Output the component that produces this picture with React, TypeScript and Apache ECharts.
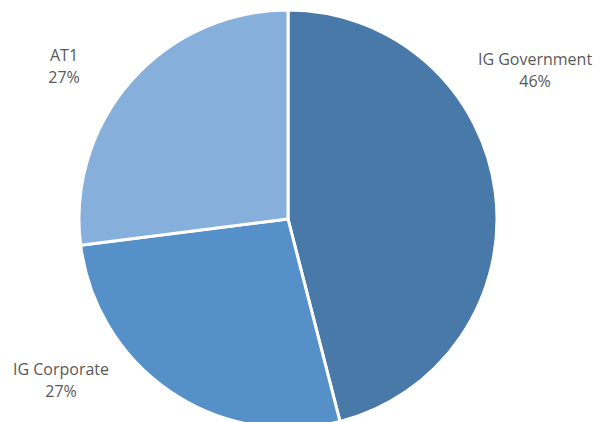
import React, { useEffect, useRef } from "react";
import * as echarts from "echarts";

const categories = ["IG Government", "IG Corporate", "AT1"];
const values = [46, 27, 27];
const colors = ["#4879A9", "#5591C8", "#87AFDC"];

// label anchor positions (center of label block), in px
const labelPos: [number, number][] = [
  [535, 70],
  [61, 380],
  [64, 66],
];

export default function App() {
  const ref = useRef<HTMLDivElement>(null);
  useEffect(() => {
    document.body.style.margin = "0";
    const chart = echarts.init(ref.current!, null, { renderer: "svg" });
    chart.setOption({
      animation: false,
      backgroundColor: "#ffffff",
      series: [
        {
          type: "pie",
          center: [288, 219],
          radius: 209,
          startAngle: 90,
          clockwise: true,
          avoidLabelOverlap: false,
          data: categories.map((name, i) => ({
            name,
            value: values[i],
            itemStyle: { color: colors[i] },
          })),
          itemStyle: { borderColor: "#ffffff", borderWidth: 3 },
          label: {
            show: true,
            position: "outside",
            formatter: "{b}\n{d}%",
            fontFamily: "Open Sans",
            fontSize: 16,
            lineHeight: 22,
            color: "#595959",
            align: "center",
          },
          labelLine: { show: false },
          labelLayout: (params: any) => ({
            x: labelPos[params.dataIndex][0],
            y: labelPos[params.dataIndex][1],
            align: "center",
            verticalAlign: "middle",
          }),
          emphasis: { disabled: true },
        },
      ],
    });
    return () => chart.dispose();
  }, []);
  return <div ref={ref} style={{ width: 606, height: 422 }} />;
}
